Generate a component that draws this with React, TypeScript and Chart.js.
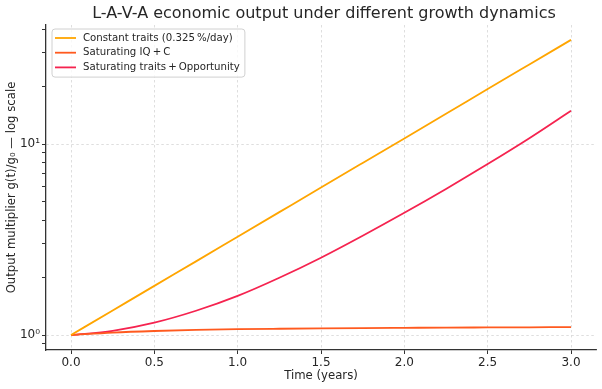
import React, { useEffect, useRef } from "react";
import { Chart, registerables } from "chart.js";

Chart.register(...registerables);

const titleText = "L-A-V-A economic output under different growth dynamics";
const xAxisTitle = "Time (years)";
const yAxisTitle = "Output multiplier g(t)/g\u2080 \u2014 log scale";

const years = [0, 0.25, 0.5, 0.75, 1, 1.25, 1.5, 1.75, 2, 2.25, 2.5, 2.75, 3];
const constantTraits = [1, 1.345, 1.809, 2.43, 3.27, 4.4, 5.92, 7.96, 10.7, 14.4, 19.4, 26.1, 35.1];
const saturatingIQC = [1, 1.03, 1.05, 1.064, 1.073, 1.079, 1.084, 1.088, 1.091, 1.094, 1.096, 1.098, 1.1];
const saturatingOpportunity = [1, 1.052, 1.161, 1.34, 1.603, 1.995, 2.541, 3.311, 4.365, 5.821, 7.852, 10.72, 14.93];

const seriesLabels = [
  "Constant traits (0.325\u2009%/day)",
  "Saturating IQ\u2009+\u2009C",
  "Saturating traits\u2009+\u2009Opportunity",
];
const seriesColors = ["#ffa500", "#ff5a1f", "#f5234f"];

const xTicks = [0, 0.5, 1, 1.5, 2, 2.5, 3];
const yMajorTicks = [1, 10];
const yMinorTicks = [0.9, 2, 3, 4, 5, 6, 7, 8, 9, 20, 30, 40];
const yTickLabels: Record<number, string> = { 1: "10\u2070", 10: "10\u00b9" };

const FONT = "'DejaVu Sans', sans-serif";
const TEXT = "#262626";

const titlePlugin = {
  id: "mplTitle",
  afterDraw(chart: any) {
    const ctx = chart.ctx;
    const a = chart.chartArea;
    ctx.save();
    ctx.font = `16px ${FONT}`;
    ctx.fillStyle = TEXT;
    ctx.textAlign = "center";
    ctx.textBaseline = "middle";
    ctx.fillText(titleText, (a.left + a.right) / 2 + 3, 14);
    ctx.restore();
  },
};

const legendPlugin = {
  id: "mplLegend",
  afterDatasetsDraw(chart: any) {
    const ctx = chart.ctx;
    const a = chart.chartArea;
    const ds = chart.data.datasets;
    const x0 = a.left + 6;
    const y0 = a.top + 4;
    ctx.save();
    ctx.font = `10.2px ${FONT}`;
    let maxW = 0;
    ds.forEach((d: any) => {
      maxW = Math.max(maxW, ctx.measureText(d.label).width);
    });
    const w = 31 + maxW + 5;
    const rowH = 14.7;
    const h = rowH * ds.length + 4;
    ctx.beginPath();
    const r = 3;
    ctx.moveTo(x0 + r, y0);
    ctx.lineTo(x0 + w - r, y0);
    ctx.quadraticCurveTo(x0 + w, y0, x0 + w, y0 + r);
    ctx.lineTo(x0 + w, y0 + h - r);
    ctx.quadraticCurveTo(x0 + w, y0 + h, x0 + w - r, y0 + h);
    ctx.lineTo(x0 + r, y0 + h);
    ctx.quadraticCurveTo(x0, y0 + h, x0, y0 + h - r);
    ctx.lineTo(x0, y0 + r);
    ctx.quadraticCurveTo(x0, y0, x0 + r, y0);
    ctx.closePath();
    ctx.fillStyle = "rgba(255,255,255,0.8)";
    ctx.fill();
    ctx.strokeStyle = "#d0d0d0";
    ctx.lineWidth = 1;
    ctx.stroke();
    ds.forEach((d: any, i: number) => {
      const cy = y0 + 9 + i * rowH;
      ctx.strokeStyle = d.borderColor;
      ctx.lineWidth = 1.8;
      ctx.beginPath();
      ctx.moveTo(x0 + 3, cy);
      ctx.lineTo(x0 + 24, cy);
      ctx.stroke();
      ctx.fillStyle = TEXT;
      ctx.textAlign = "left";
      ctx.textBaseline = "middle";
      ctx.fillText(d.label, x0 + 31, cy);
    });
    ctx.restore();
  },
};

export default function App() {
  const canvasRef = useRef<HTMLCanvasElement | null>(null);

  useEffect(() => {
    document.body.style.margin = "0";
    const canvas = canvasRef.current;
    if (!canvas) return;
    const series = [constantTraits, saturatingIQC, saturatingOpportunity];
    const chart = new Chart(canvas, {
      type: "line",
      data: {
        datasets: series.map((vals, i) => ({
          label: seriesLabels[i],
          data: years.map((x, j) => ({ x, y: vals[j] })),
          borderColor: seriesColors[i],
          backgroundColor: seriesColors[i],
          borderWidth: 1.8,
          pointRadius: 0,
          fill: false,
          cubicInterpolationMode: "monotone" as const,
        })),
      },
      options: {
        responsive: false,
        devicePixelRatio: 1,
        animation: false,
        layout: { padding: { left: 0, right: 6, top: 25, bottom: 0 } },
        plugins: {
          legend: { display: false },
          title: { display: false },
          tooltip: { enabled: false },
        },
        scales: {
          x: {
            type: "linear",
            min: -0.15,
            max: 3.15,
            afterBuildTicks: (scale: any) => {
              scale.ticks = xTicks.map((v) => ({ value: v }));
            },
            afterFit: (scale: any) => {
              scale.height = 39;
            },
            ticks: {
              font: { family: FONT, size: 12 },
              color: TEXT,
              padding: 2,
              maxRotation: 0,
              autoSkip: false,
              callback: (v: any) => Number(v).toFixed(1),
            },
            grid: {
              color: "#d6d6d6",
              lineWidth: 0.8,
              tickColor: "#333",
              tickLength: 4,
              tickWidth: 1,
            },
            border: { display: true, color: "#333", width: 1.3, dash: [2.5, 2.5] },
            title: {
              display: true,
              text: xAxisTitle,
              font: { family: FONT, size: 11.7 },
              color: TEXT,
              padding: { top: 0, bottom: 6 },
            },
          },
          y: {
            type: "logarithmic",
            min: 0.835,
            max: 42,
            afterBuildTicks: (scale: any) => {
              scale.ticks = [...yMajorTicks, ...yMinorTicks]
                .sort((a, b) => a - b)
                .map((v) => ({ value: v, major: yMajorTicks.includes(v) }));
            },
            afterFit: (scale: any) => {
              scale.width = 46;
            },
            ticks: {
              font: { family: FONT, size: 12 },
              color: TEXT,
              padding: 2,
              autoSkip: false,
              callback: (v: any) => yTickLabels[Number(v)] ?? "",
            },
            grid: {
              color: (c: any) =>
                c.tick && yMajorTicks.includes(c.tick.value) ? "#d6d6d6" : "rgba(0,0,0,0)",
              lineWidth: 0.8,
              tickColor: "#333",
              tickLength: 4,
              tickWidth: 1,
            },
            border: { display: true, color: "#333", width: 1.3, dash: [2.5, 2.5] },
            title: {
              display: true,
              text: yAxisTitle,
              font: { family: FONT, size: 11.7 },
              color: TEXT,
              padding: { top: 5, bottom: 0 },
            },
          },
        },
      },
      plugins: [titlePlugin, legendPlugin],
    });
    return () => chart.destroy();
  }, []);

  return (
    <div style={{ width: 602, height: 389, background: "#fff" }}>
      <canvas ref={canvasRef} width={602} height={389} style={{ display: "block" }} />
    </div>
  );
}
